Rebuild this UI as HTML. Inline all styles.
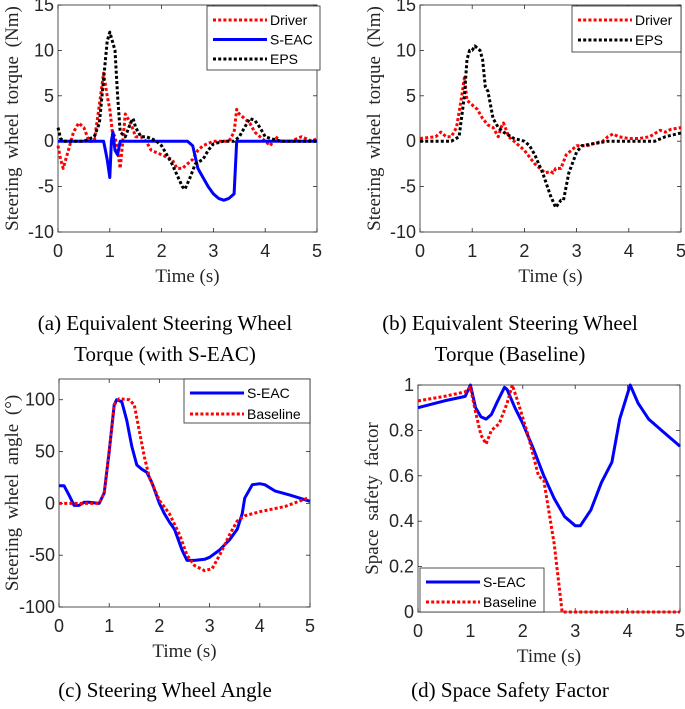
<!DOCTYPE html>
<html><head><meta charset="utf-8"><style>
body{margin:0;background:#fff;width:685px;height:709px;overflow:hidden}
svg{position:absolute;left:0;top:0}
.cap{font-family:"Liberation Serif",serif;font-size:21px;fill:#000}
</style></head><body>
<svg id="chart" width="685" height="709" viewBox="0 0 685 709">
<text class="cap" x="165" y="330" text-anchor="middle">(a) Equivalent Steering Wheel</text>
<text class="cap" x="165" y="361" text-anchor="middle">Torque (with S-EAC)</text>
<text class="cap" x="510" y="330" text-anchor="middle">(b) Equivalent Steering Wheel</text>
<text class="cap" x="510" y="361" text-anchor="middle">Torque (Baseline)</text>
<text class="cap" x="165" y="697" text-anchor="middle">(c) Steering Wheel Angle</text>
<text class="cap" x="510" y="697" text-anchor="middle">(d) Space Safety Factor</text>
</svg>
<script>
// Panel (a)
const aDriverT=[0,0.05,0.1,0.2,0.3,0.4,0.5,0.6,0.7,0.8,0.88,0.95,1.0,1.05,1.1,1.15,1.2,1.3,1.4,1.5,1.6,1.7,1.8,2.0,2.2,2.3,2.4,2.5,2.6,2.7,2.8,3.0,3.2,3.3,3.4,3.45,3.5,3.6,3.7,3.8,3.9,4.0,4.1,4.2,4.3,4.5,4.7,4.9,5.0];
const aDriverV=[-0.5,-2,-3,-1,1,2,1.5,0,0,4,7.5,5,3.5,1,0.5,-1,-3,3,2,0.5,0.5,0,-1,-1.5,-2,-3,-3,-2.5,-2,-1,-0.5,0,0,0,1,3.5,3,2.5,2,1,0.5,0,-0.5,0.5,0,0,0.5,0,0.3];
const aEpsT=[0,0.05,0.1,0.5,0.7,0.8,0.9,0.95,1.0,1.05,1.1,1.15,1.2,1.3,1.4,1.45,1.5,1.6,1.7,1.8,1.9,2.0,2.2,2.4,2.45,2.55,2.65,2.8,2.9,3.0,3.2,3.4,3.5,3.6,3.7,3.8,3.9,4.0,4.1,4.3,5];
const aEpsV=[1.5,0.3,0,0,0.5,2,8,11,12,11,10,5,1,0.5,2,2.5,1.5,0.5,0.5,0.3,0,-0.5,-2.5,-5,-5.3,-4,-2.5,-2,-1,-0.3,0,0,0.5,1.5,2.5,2.3,1.5,0.5,0.3,0,0];
const aSeacT=[0,0.88,0.95,1.0,1.03,1.06,1.1,1.15,1.2,1.25,2.5,2.6,2.7,2.8,2.9,3.0,3.1,3.2,3.3,3.4,3.45,5];
const aSeacV=[0,0,-2,-4,0,1,-1,-1.5,0,0,0,-0.5,-3,-4,-5,-5.8,-6.3,-6.5,-6.3,-5.8,0,0];
// Panel (b)
const bDriverT=[0,0.3,0.4,0.5,0.6,0.7,0.8,0.85,0.9,1.0,1.1,1.2,1.3,1.4,1.5,1.55,1.6,1.7,1.8,2.0,2.2,2.4,2.5,2.55,2.6,2.7,2.8,3.0,3.2,3.3,3.5,3.6,3.7,3.8,4.0,4.2,4.4,4.6,4.7,4.8,5];
const bDriverV=[0.3,0.5,1,0.5,0.5,1.5,5,7,4.5,4,3.5,2.5,1.8,1.5,0.5,1.5,2,0.5,0,-1,-2.5,-3.5,-3.3,-3.5,-3,-3,-1.5,-0.5,-0.5,-0.3,0,0.5,0.8,0.5,0.3,0.3,0.5,1.2,1,1.3,1.5];
const bEpsT=[0,0.6,0.75,0.85,0.9,0.95,1.0,1.05,1.15,1.2,1.25,1.3,1.4,1.5,1.6,1.8,2.0,2.1,2.2,2.35,2.5,2.6,2.7,2.75,2.85,3.0,3.1,3.3,3.6,4,4.5,4.7,5];
const bEpsV=[0,0,0.5,5,9,10,10,10.5,10,9,6,5.5,2.5,1.5,1,0.3,0,-0.5,-1.5,-3.5,-6,-7.3,-6.5,-6.5,-3.5,-1.2,-0.5,-0.3,0,0,0,0.5,0.9];
// Panel (c)
const cSeacT=[0,0.1,0.2,0.3,0.4,0.5,0.6,0.8,0.9,1.0,1.1,1.15,1.25,1.35,1.45,1.55,1.65,1.75,1.85,2.0,2.1,2.2,2.3,2.45,2.55,2.7,2.9,3.0,3.2,3.4,3.55,3.65,3.7,3.85,4.0,4.1,4.3,4.6,5.0];
const cSeacV=[17,17,8,-2,-2,1,1,0,10,50,95,100,98,80,55,37,33,30,20,0,-10,-18,-25,-45,-55,-55,-54,-52,-45,-35,-25,-10,5,18,19,18,12,8,2];
const cBaseT=[0,0.8,0.9,1.0,1.1,1.2,1.4,1.5,1.6,1.7,1.8,2.0,2.2,2.4,2.55,2.7,2.9,3.05,3.2,3.4,3.55,3.7,4.0,4.5,4.95];
const cBaseV=[0,0,10,50,95,101,100,95,70,45,25,3,-10,-30,-50,-60,-65,-63,-50,-30,-17,-12,-8,-3,5];
// Panel (d)
const dSeacT=[0,0.5,0.9,1.0,1.1,1.2,1.3,1.4,1.5,1.65,1.7,1.85,2.0,2.2,2.4,2.6,2.8,3.0,3.1,3.3,3.5,3.7,3.85,4.05,4.2,4.4,4.7,5.0];
const dSeacV=[0.9,0.93,0.95,1.0,0.9,0.86,0.85,0.87,0.92,0.99,0.98,0.9,0.83,0.72,0.6,0.5,0.42,0.38,0.38,0.45,0.57,0.66,0.85,1.0,0.92,0.85,0.79,0.73];
const dBaseT=[0,0.5,0.9,1.0,1.1,1.2,1.3,1.4,1.55,1.7,1.8,1.9,2.1,2.3,2.4,2.6,2.7,2.75,5];
const dBaseV=[0.93,0.95,0.97,0.99,0.88,0.78,0.74,0.8,0.83,0.92,1.0,0.93,0.78,0.6,0.58,0.3,0.1,0,0];
const xTicks=[0,1,2,3,4,5];
const torqueTicks=[-10,-5,0,5,10,15];
const angleTicks=[-100,-50,0,50,100];
const ssfTicks=[0,0.2,0.4,0.6,0.8,1];

const NS="http://www.w3.org/2000/svg";
const svg=document.getElementById('chart');
function mk(tag,attrs,parent){const e=document.createElementNS(NS,tag);for(const k in attrs)e.setAttribute(k,attrs[k]);(parent||svg).appendChild(e);return e;}
const RED={stroke:'#ff0000',dash:'3 2.2'},BLUE={stroke:'#0000ff',dash:null},BLK={stroke:'#000',dash:'3 2.2'};

function panel(p){
  const g=mk('g',{});
  
  
  const sx=t=>p.x0+(t-0)/5*(p.x1-p.x0);
  const sy=v=>p.y1-(v-p.ymin)/(p.ymax-p.ymin)*(p.y1-p.y0);
  const box=mk('rect',{x:p.x0,y:p.y0,width:p.x1-p.x0,height:p.y1-p.y0,fill:'none',stroke:'#262626','stroke-width':0.8},g);
  
  
  xTicks.forEach(t=>{
    mk('line',{x1:sx(t),x2:sx(t),y1:p.y1,y2:p.y1-4,stroke:'#262626','stroke-width':0.8},g);
    mk('line',{x1:sx(t),x2:sx(t),y1:p.y0,y2:p.y0+4,stroke:'#262626','stroke-width':0.8},g);
    const tx=mk('text',{x:sx(t),y:p.y1+25,'text-anchor':'middle','font-family':'Liberation Sans, sans-serif','font-size':18,fill:'#262626'},g);
    tx.textContent=t;
    
    
  });
  p.yTicks.forEach(v=>{
    mk('line',{x1:p.x0,x2:p.x0+4,y1:sy(v),y2:sy(v),stroke:'#262626','stroke-width':0.8},g);
    mk('line',{x1:p.x1,x2:p.x1-4,y1:sy(v),y2:sy(v),stroke:'#262626','stroke-width':0.8},g);
    const ty=mk('text',{x:p.x0-4,y:sy(v)+6,'text-anchor':'end','font-family':'Liberation Sans, sans-serif','font-size':18,fill:'#262626'},g);
    ty.textContent=v;
    
    
  });
  const xt=mk('text',{x:(p.x0+p.x1)/2,y:p.y1+50,'text-anchor':'middle','font-family':'Liberation Serif, serif','font-size':19,fill:'#262626'},g);
  xt.textContent='Time (s)';
  
  
  const yt=mk('text',{transform:`translate(${p.yx},${(p.y0+p.y1)/2}) rotate(-90)`,'text-anchor':'middle','font-family':'Liberation Serif, serif','font-size':19,fill:'#262626','word-spacing':'4px'},g);
  yt.textContent=p.ytitle;
  
  
  p.series.forEach(s=>{
    const d=s.t.map((t,i)=>(i?'L':'M')+sx(t).toFixed(1)+','+sy(s.v[i]).toFixed(1)).join('');
    const a={d:d,fill:'none',stroke:s.st.stroke,'stroke-width':3,'stroke-linejoin':'round'};
    if(s.st.dash)a['stroke-dasharray']=s.st.dash;
    const pa=mk('path',a,g);
    
    
  });
  const L=p.leg;
  const lb=mk('rect',{x:L.x0,y:L.y0,width:L.x1-L.x0,height:L.y1-L.y0,fill:'#fff',stroke:'#262626','stroke-width':0.8},g);
  
  
  p.series.forEach((s,i)=>{
    const yy=L.y0+14+i*L.dy;
    const a={x1:L.x0+6,x2:L.x0+60,y1:yy,y2:yy,stroke:s.st.stroke,'stroke-width':3};
    if(s.st.dash)a['stroke-dasharray']=s.st.dash;
    mk('line',a,g);
    const lt=mk('text',{x:L.x0+63,y:yy+5,'font-family':'Liberation Sans, sans-serif','font-size':14,fill:'#000'},g);
    lt.textContent=s.label;
    
    
  });
}
panel({name:'panel-a',x0:58,x1:317,y0:5,y1:232,ymin:-10,ymax:15,yTicks:torqueTicks,yx:18,ytitle:'Steering wheel torque (Nm)',
 series:[{t:aDriverT,v:aDriverV,st:RED,label:'Driver'},{t:aSeacT,v:aSeacV,st:BLUE,label:'S-EAC'},{t:aEpsT,v:aEpsV,st:BLK,label:'EPS'}],
 leg:{x0:207,x1:320,y0:6,y1:70,dy:19.5}});
panel({name:'panel-b',x0:420,x1:681,y0:5,y1:232,ymin:-10,ymax:15,yTicks:torqueTicks,yx:380,ytitle:'Steering wheel torque (Nm)',
 series:[{t:bDriverT,v:bDriverV,st:RED,label:'Driver'},{t:bEpsT,v:bEpsV,st:BLK,label:'EPS'}],
 leg:{x0:572,x1:681,y0:6,y1:52,dy:20}});
panel({name:'panel-c',x0:59,x1:310,y0:379,y1:607,ymin:-100,ymax:120,yTicks:angleTicks,yx:18,ytitle:'Steering wheel angle (°)',
 series:[{t:cSeacT,v:cSeacV,st:BLUE,label:'S-EAC'},{t:cBaseT,v:cBaseV,st:RED,label:'Baseline'}],
 leg:{x0:184,x1:310,y0:379,y1:423,dy:21}});
panel({name:'panel-d',x0:418,x1:680,y0:385,y1:612,ymin:0,ymax:1,yTicks:ssfTicks,yx:378,ytitle:'Space safety factor',
 series:[{t:dSeacT,v:dSeacV,st:BLUE,label:'S-EAC'},{t:dBaseT,v:dBaseV,st:RED,label:'Baseline'}],
 leg:{x0:420,x1:544,y0:568,y1:612,dy:20}});
</script>
</body></html>
